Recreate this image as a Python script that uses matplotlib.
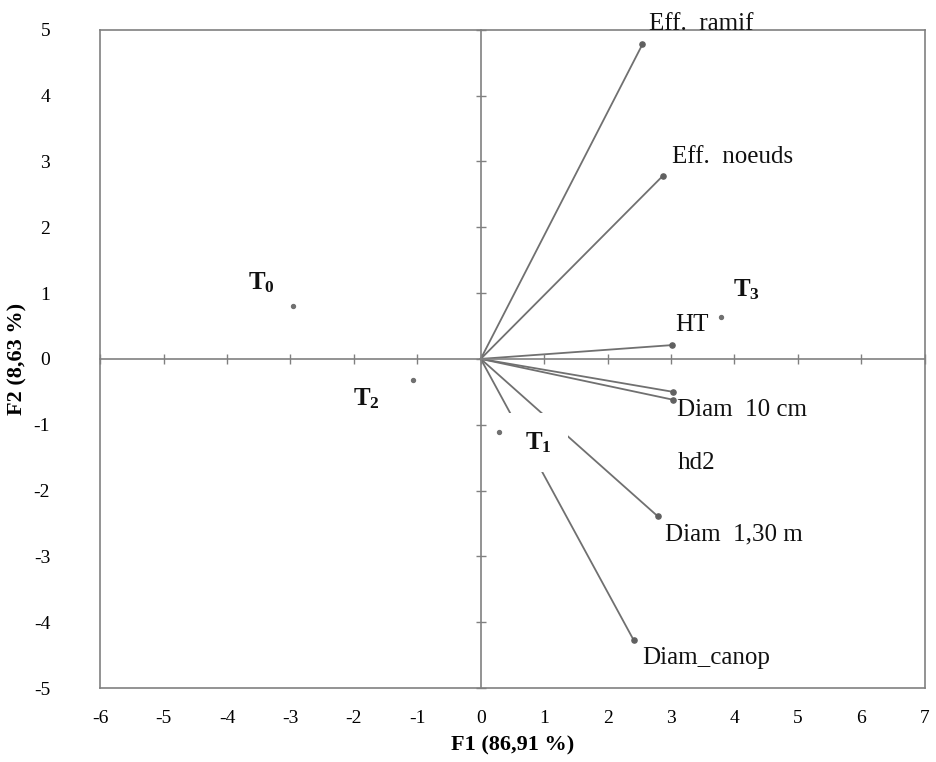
import matplotlib
matplotlib.use("Agg")
import matplotlib.pyplot as plt

plt.rcParams['font.family'] = 'Liberation Serif'
plt.rcParams['mathtext.fontset'] = 'custom'
plt.rcParams['mathtext.rm'] = 'Liberation Serif'
plt.rcParams['mathtext.bf'] = 'Liberation Serif:bold'
plt.rcParams['axes.unicode_minus'] = False

# variables (vecteurs)
var_names = ['Eff. ramif', 'Eff. noeuds', 'HT', 'Diam 10 cm', 'hd2', 'Diam 1,30 m', 'Diam_canop']
var_x = [2.55, 2.87, 3.02, 3.03, 3.03, 2.79, 2.41]
var_y = [4.78, 2.78, 0.21, -0.50, -0.62, -2.39, -4.27]
lab_names = ['Eff.  ramif', 'Eff.  noeuds', 'HT', 'Diam  10 cm', 'hd2', 'Diam  1,30 m', 'Diam_canop']
lab_x = [2.66, 3.02, 3.07, 3.10, 3.10, 2.90, 2.55]
lab_y = [5.08, 3.07, 0.52, -0.78, -1.58, -2.67, -4.54]

# traitements (observations)
obs_names = [r'$\mathbf{T_0}$', r'$\mathbf{T_1}$', r'$\mathbf{T_2}$', r'$\mathbf{T_3}$']
obs_x = [-2.96, 0.28, -1.07, 3.78]
obs_y = [0.80, -1.11, -0.32, 0.64]
obs_lab_x = [-3.67, 0.69, -2.02, 3.97]
obs_lab_y = [1.15, -1.27, -0.60, 1.05]

fig = plt.figure(figsize=(9.36, 7.62), dpi=100)
ax = fig.add_axes([0.107, 0.097, 0.881, 0.864])
ax.set_xlim(-6, 7)
ax.set_ylim(-5, 5)
for s in ax.spines.values():
    s.set_color('#808080')
    s.set_linewidth(1.2)
ax.set_xticks(range(-6, 8))
ax.set_yticks(range(-5, 6))
ax.tick_params(axis='both', length=0, labelsize=14)
ax.tick_params(axis='x', pad=16)
ax.tick_params(axis='y', pad=36)
ax.set_xlabel('F1 (86,91 %)', fontsize=16, fontweight='bold')
ax.set_ylabel('F2 (8,63 %)', fontsize=16, fontweight='bold')
ax.xaxis.set_label_coords(0.5, -0.072)
ax.yaxis.set_label_coords(-0.088, 0.5)

# axes centrés à zéro
ax2 = fig.add_axes(ax.get_position(), sharex=ax, sharey=ax, frameon=True)
ax2.patch.set_visible(False)
ax2.spines['left'].set_position(('data', 0))
ax2.spines['bottom'].set_position(('data', 0))
ax2.spines['right'].set_visible(False)
ax2.spines['top'].set_visible(False)
for s in ['left', 'bottom']:
    ax2.spines[s].set_color('#808080')
    ax2.spines[s].set_linewidth(1.2)
ax2.tick_params(axis='both', direction='inout', length=7, width=1, color='#808080',
                labelbottom=False, labelleft=False)

# vecteurs
for x, y in zip(var_x, var_y):
    ax.plot([0, x], [0, y], color='#707070', linewidth=1.3, zorder=2)
ax.scatter(var_x, var_y, s=14, color='#606060', zorder=3)
for name, x, y in zip(lab_names, lab_x, lab_y):
    ax.text(x, y, name, fontsize=18, ha='left', va='center', color='#111111', zorder=5)

# observations
ax.scatter(obs_x, obs_y, s=8, color='#707070', zorder=3)
for name, x, y in zip(obs_names, obs_lab_x, obs_lab_y):
    bb = None
    if name == r'$\mathbf{T_1}$':
        bb = dict(facecolor='white', edgecolor='none', pad=12)
    ax.text(x, y, name, fontsize=18, ha='left', va='center', color='#111111', zorder=4, bbox=bb)

fig.savefig('out.png', dpi=100)
